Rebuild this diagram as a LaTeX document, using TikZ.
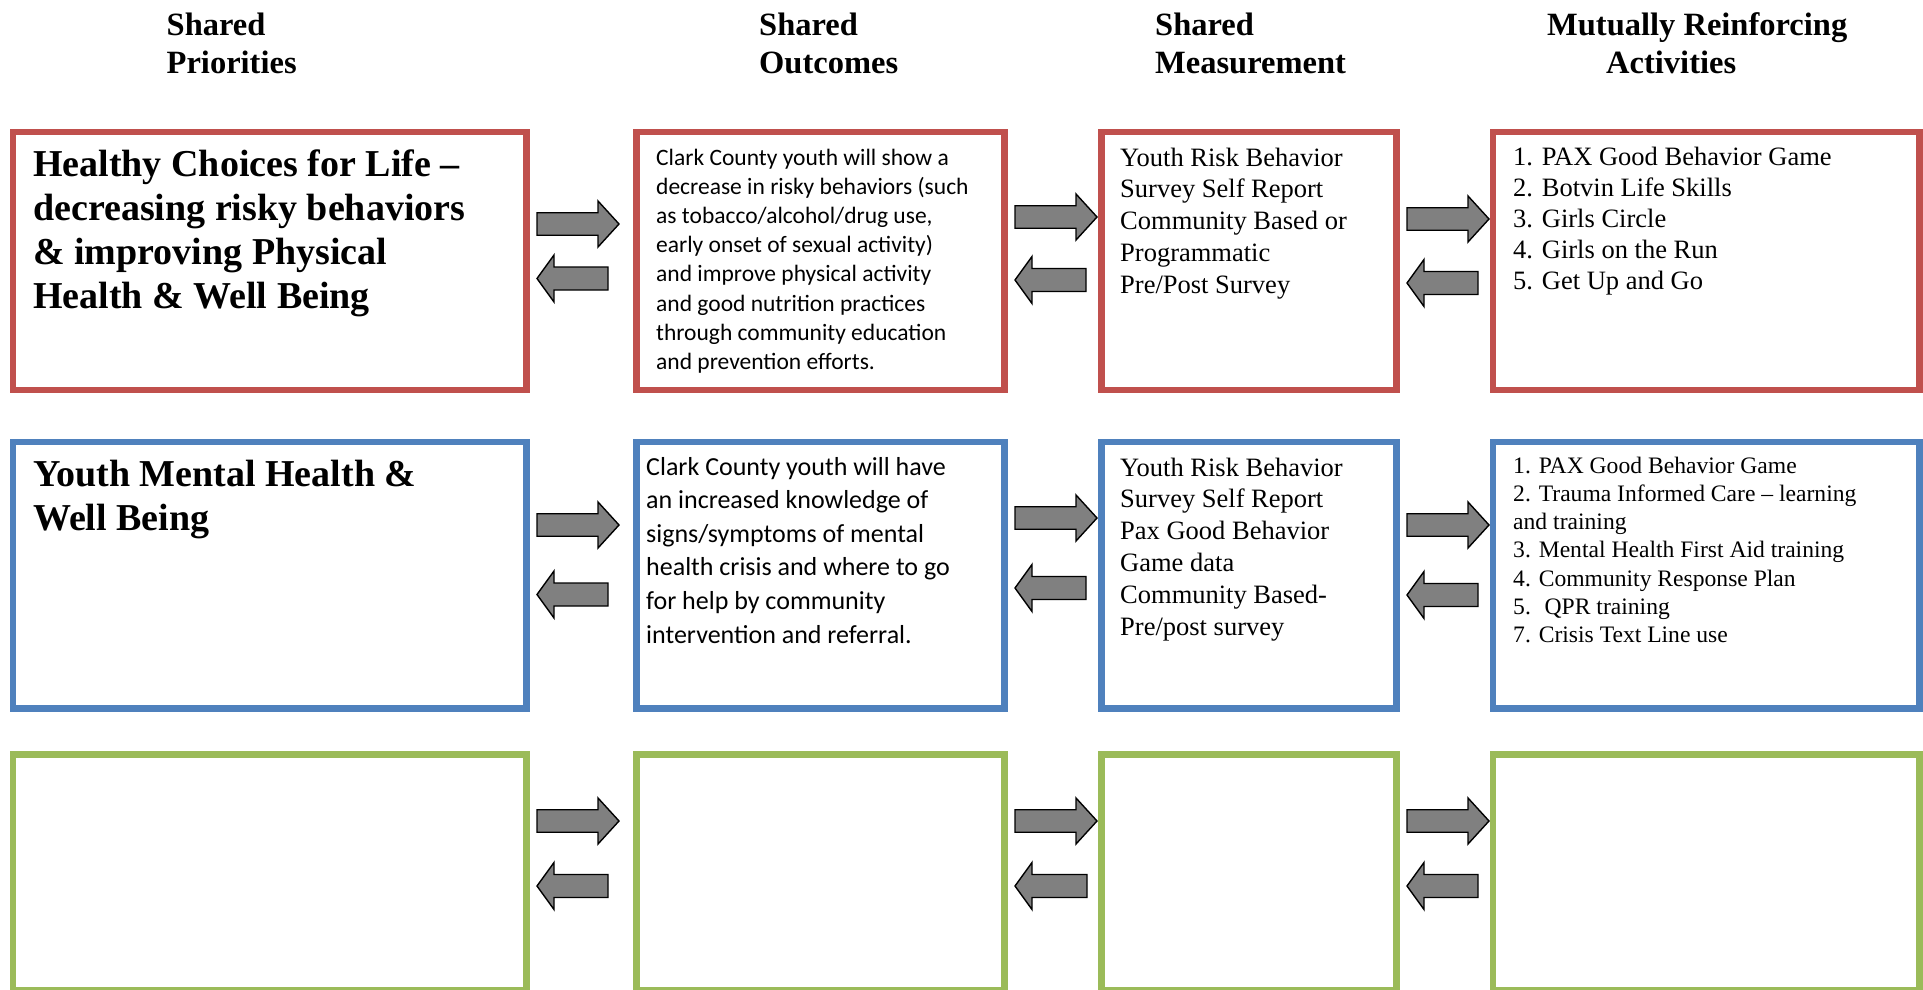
\documentclass[tikz,border=0pt]{standalone}
\usepackage{fontspec}
\setmainfont{Liberation Serif}
\newfontfamily\calib{Carlito}
\definecolor{bred}{HTML}{C0504D}
\definecolor{bblue}{HTML}{4F81BD}
\definecolor{bgreen}{HTML}{9BBB59}
\definecolor{arrgray}{HTML}{808080}
\newcommand\mylines[3]{\fontsize{#1}{#2}\selectfont\begin{tabular}[t]{@{}l@{}}#3\end{tabular}}
\tikzset{
  boxc/.style={draw=#1, line width=6.5pt, fill=white, inner sep=0pt, anchor=north west},
  txt/.style={inner sep=0pt, anchor=base west},
  blockarr/.style={fill=arrgray, draw=black, line width=1.4pt, line join=miter},
}
% right arrow: tail at x=#1, centre y=#2
\newcommand\RA[2]{\draw[blockarr] (#1,#2-11.25) -- (#1+61,#2-11.25) -- (#1+61,#2-23) -- (#1+82,#2) -- (#1+61,#2+23) -- (#1+61,#2+11.25) -- (#1,#2+11.25) -- cycle;}
% left arrow: tip at x=#1, centre y=#2, tail at #1+#3
\newcommand\LA[3]{\draw[blockarr] (#1+#3,#2-11.5) -- (#1+17,#2-11.5) -- (#1+17,#2-23.5) -- (#1,#2) -- (#1+17,#2+23.5) -- (#1+17,#2+11.5) -- (#1+#3,#2+11.5) -- cycle;}
\begin{document}
\begin{tikzpicture}[x=1pt,y=-1pt]
\useasboundingbox (0,0) rectangle (1923,990);

% headers
\node[txt] (h1) at (166.5,36) {\mylines{32.5}{38}{\bfseries Shared\\ \bfseries Priorities}};
\node[txt] (h2) at (759,36) {\mylines{32.5}{38}{\bfseries Shared\\ \bfseries Outcomes}};
\node[txt] (h3) at (1155,36) {\mylines{32.5}{38}{\bfseries Shared\\ \bfseries Measurement}};
\node[txt] (h4a) at (1547,36) {\fontsize{32.5}{38}\selectfont\bfseries Mutually Reinforcing};
\node[txt] (h4b) at (1606,74) {\fontsize{32.5}{38}\selectfont\bfseries Activities};

% row 1 boxes
\node[boxc=bred, minimum width=513.5, minimum height=258] (p1) at (9.5,128.5) {};
\node[boxc=bred, minimum width=368, minimum height=258] (o1) at (633,128.5) {};
\node[boxc=bred, minimum width=295, minimum height=258] (m1) at (1098,128.5) {};
\node[boxc=bred, minimum width=426.5, minimum height=258] (a1) at (1489.5,128.5) {};
% row 2 boxes
\node[boxc=bblue, minimum width=513.5, minimum height=266.5] (p2) at (9.5,438.5) {};
\node[boxc=bblue, minimum width=368, minimum height=266.5] (o2) at (633,438.5) {};
\node[boxc=bblue, minimum width=295, minimum height=266.5] (m2) at (1098,438.5) {};
\node[boxc=bblue, minimum width=426.5, minimum height=266.5] (a2) at (1489.5,438.5) {};
% row 3 boxes
\node[boxc=bgreen, minimum width=513.5, minimum height=236] (p3) at (9.5,751) {};
\node[boxc=bgreen, minimum width=368, minimum height=236] (o3) at (633,751) {};
\node[boxc=bgreen, minimum width=295, minimum height=236] (m3) at (1098,751) {};
\node[boxc=bgreen, minimum width=426.5, minimum height=236] (a3) at (1489.5,751) {};

% row 1 texts
\node[txt] (t11) at (33,176) {\mylines{38}{44}{\bfseries Healthy Choices for Life –\\ \bfseries decreasing risky behaviors\\ \bfseries \& improving Physical\\ \bfseries Health \& Well Being}};
\node[txt] (t12) at (656,165) {\calib\mylines{23.5}{29.2}{Clark County youth will show a\\ decrease in risky behaviors (such\\ as tobacco/alcohol/drug use,\\ early onset of sexual activity)\\ and improve physical activity\\ and good nutrition practices\\ through community education\\ and prevention efforts.}};
\node[txt] (t13) at (1120,166) {\mylines{26.5}{31.9}{Youth Risk Behavior\\ Survey Self Report\\ Community Based or\\ Programmatic\\ Pre/Post Survey}};
\node[txt] (t14) at (1513,165) {\mylines{26.5}{31}{1. PAX Good Behavior Game\\ 2. Botvin Life Skills\\ 3. Girls Circle\\ 4. Girls on the Run\\ 5. Get Up and Go}};

% row 2 texts
\node[txt] (t21) at (33,486) {\mylines{38}{44}{\bfseries Youth Mental Health \&\\ \bfseries Well Being}};
\node[txt] (t22) at (646,475) {\calib\mylines{26}{33.6}{Clark County youth will have\\ an increased knowledge of\\ signs/symptoms of mental\\ health crisis and where to go\\ for help by community\\ intervention and referral.}};
\node[txt] (t23) at (1120,476) {\mylines{26.5}{31.9}{Youth Risk Behavior\\ Survey Self Report\\ Pax Good Behavior\\ Game data\\ Community Based-\\ Pre/post survey}};
\node[txt] (t24) at (1513,473) {\mylines{23.6}{28.3}{1. PAX Good Behavior Game\\ 2. Trauma Informed Care – learning\\ and training\\ 3. Mental Health First Aid training\\ 4. Community Response Plan\\ 5.~ QPR training\\ 7. Crisis Text Line use}};

% arrows row 1
\RA{537}{224} \LA{537}{278.5}{71}
\RA{1015}{217} \LA{1015}{280}{71}
\RA{1407}{219} \LA{1407}{283}{71}
% arrows row 2
\RA{537}{525} \LA{537}{594.5}{71}
\RA{1015}{518} \LA{1015}{588}{71}
\RA{1407}{525} \LA{1407}{595}{71}
% arrows row 3
\RA{537}{821} \LA{537}{886}{71}
\RA{1015}{821} \LA{1015}{886}{72}
\RA{1407}{821} \LA{1407}{886}{71}
\end{tikzpicture}
\end{document}
